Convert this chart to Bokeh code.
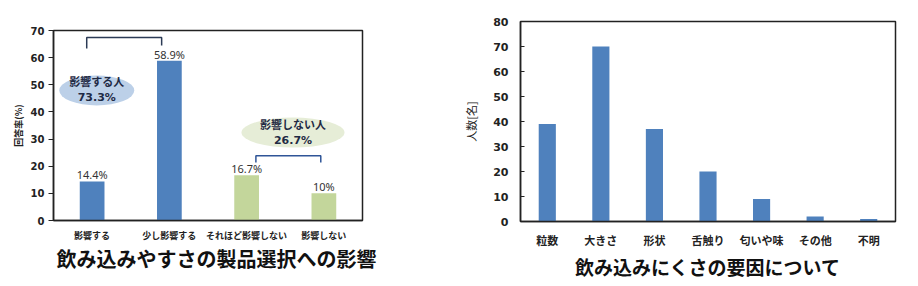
import numpy as np
from bokeh.plotting import figure
from bokeh.layouts import row, column
from bokeh.models import Range1d, FixedTicker, Title, ColumnDataSource
from bokeh.core.properties import value
from bokeh.embed import file_html
from bokeh.resources import INLINE

# ---------------- data ----------------
cats_left = ["影響する", "少し影響する", "それほど影響しない", "影響しない"]
vals_left = [14.4, 58.9, 16.7, 10.0]
labels_left = ["14.4%", "58.9%", "16.7%", "10%"]
colors_left = ["#4F81BD", "#4F81BD", "#C3D69B", "#C3D69B"]
yticks_left = [0, 10, 20, 30, 40, 50, 60, 70]

group_names = ["影響する人", "影響しない人"]
group_pct = ["73.3%", "26.7%"]

cats_right = ["粒数", "大きさ", "形状", "舌触り", "匂いや味", "その他", "不明"]
vals_right = [39, 70, 37, 20, 9, 2, 1]
yticks_right = [0, 10, 20, 30, 40, 50, 60, 70, 80]

title_left = "飲み込みやすさの製品選択への影響"
title_right = "飲み込みにくさの要因について"
ylabel_left = "回答率(%)"
ylabel_right = "人数[名]"

JP = "Noto Sans CJK JP"
NUM = "DejaVu Sans"


def style_axes(p, cats, yticks, tick_in, tick_out, label_size, cat_size, ylabel, ylabel_size, ylabel_bold, ystand, ylstand, xstand):
    n = len(cats)
    xs = [i + 0.5 for i in range(n)]
    p.xaxis.ticker = FixedTicker(ticks=xs)
    p.xaxis.major_label_overrides = {x: c for x, c in zip(xs, cats)}
    p.xaxis.major_tick_line_color = None
    p.xaxis.major_tick_in = 0
    p.xaxis.major_tick_out = 0
    p.xaxis.minor_tick_line_color = None
    p.xaxis.axis_line_color = "#222222"
    p.xaxis.axis_line_width = 1.5
    p.xaxis.major_label_text_font = JP
    p.xaxis.major_label_text_font_style = "bold"
    p.xaxis.major_label_text_font_size = cat_size
    p.xaxis.major_label_text_color = "#222222"
    p.xaxis.major_label_standoff = xstand

    p.yaxis.ticker = FixedTicker(ticks=yticks)
    p.yaxis.minor_tick_line_color = None
    p.yaxis.major_tick_in = tick_in
    p.yaxis.major_tick_out = tick_out
    p.yaxis.major_tick_line_color = "#222222"
    p.yaxis.axis_line_color = "#222222"
    p.yaxis.axis_line_width = 1.5
    p.yaxis.major_label_text_font = NUM
    p.yaxis.major_label_text_font_style = "bold"
    p.yaxis.major_label_text_font_size = label_size
    p.yaxis.major_label_text_color = "#222222"
    p.yaxis.major_label_standoff = ystand
    p.yaxis.axis_label = ylabel
    p.yaxis.axis_label_text_font = JP
    p.yaxis.axis_label_text_font_size = ylabel_size
    p.yaxis.axis_label_text_font_style = "bold" if ylabel_bold else "normal"
    p.yaxis.axis_label_text_color = "#222222"
    p.yaxis.axis_label_standoff = ylstand

    p.title.visible = False
    p.xgrid.visible = False
    p.ygrid.visible = False
    p.outline_line_color = "#222222"
    p.outline_line_width = 1.5
    p.background_fill_color = "white"
    p.border_fill_color = "white"
    return xs


# ---------------- left chart ----------------
p1 = figure(frame_width=309, frame_height=190, x_range=Range1d(0, len(cats_left)), y_range=Range1d(0, 70),
            output_backend="svg", toolbar_location=None,
            min_border_left=53, min_border_right=98, min_border_top=30, min_border_bottom=66)
xl = style_axes(p1, cats_left, yticks_left, 0, 5, "10px", "9px", ylabel_left, "9px", True, 4, 3, 8)

src_l = ColumnDataSource(dict(x=xl, top=vals_left, color=colors_left, label=labels_left))
p1.vbar(x="x", top="top", width=0.32, bottom=0, fill_color="color", line_color=None, source=src_l)
p1.text(x="x", y="top", text="label", source=src_l, text_align="center", text_baseline="bottom",
        text_font=value("Noto Sans"), text_font_size="11px", text_color="#333333", y_offset=1)

# brackets grouping categories
b1x = [xl[0] - 0.07, xl[0] - 0.07, xl[1] - 0.1, xl[1] - 0.1]
b1y = [63.4, 67.4, 67.4, 64.5]
b2x = [xl[2] + 0.12, xl[2] + 0.12, xl[3] - 0.04, xl[3] - 0.04]
b2y = [21.4, 23.9, 23.9, 21.4]
p1.line(b1x, b1y, line_color="#2B3A55", line_width=1.5)
p1.line(b2x, b2y, line_color="#2F5597", line_width=1.5)

# group ellipses
ex = [xl[0] + 0.06, (xl[2] + xl[3]) / 2 + 0.1]
ey = [47.9, 32.4]
p1.ellipse(x=ex, y=ey, width=[75, 103], height=[30, 30], width_units="screen", height_units="screen",
           fill_color=["#BCD0E8", "#E6EDD7"], line_color=None)
p1.text(x=ex, y=ey, text=group_names, text_align="center", text_baseline="bottom", y_offset=-1,
        text_font=value(JP), text_font_style="bold", text_font_size="11px", text_color="#1F2A44")
p1.text(x=ex, y=ey, text=group_pct, text_align="center", text_baseline="top", y_offset=1,
        text_font=value(NUM), text_font_style="bold", text_font_size="11px", text_color="#1F2A44")

p1.add_layout(Title(text=title_left, align="left", text_font=JP, text_font_size="20px",
                    text_font_style="bold", text_color="#111111", standoff=-6, offset=3), "below")

# ---------------- right chart ----------------
p2 = figure(frame_width=375, frame_height=200, x_range=Range1d(0, len(cats_right)), y_range=Range1d(0, 80),
            output_backend="svg", toolbar_location=None,
            min_border_left=57, min_border_right=26, min_border_top=21, min_border_bottom=65)
xr = style_axes(p2, cats_right, yticks_right, 4, 0, "11px", "11px", ylabel_right, "11px", False, 12, 11, 10)

src_r = ColumnDataSource(dict(x=xr, top=vals_right))
p2.vbar(x="x", top="top", width=0.32, bottom=0, fill_color="#4F81BD", line_color=None, source=src_r)

p2.add_layout(Title(text=title_right, align="center", text_font=JP, text_font_size="19px",
                    text_font_style="bold", text_color="#111111", standoff=0), "below")

layout = row(column(p1), column(p2))
open("out.html", "w").write(file_html(layout, INLINE))
